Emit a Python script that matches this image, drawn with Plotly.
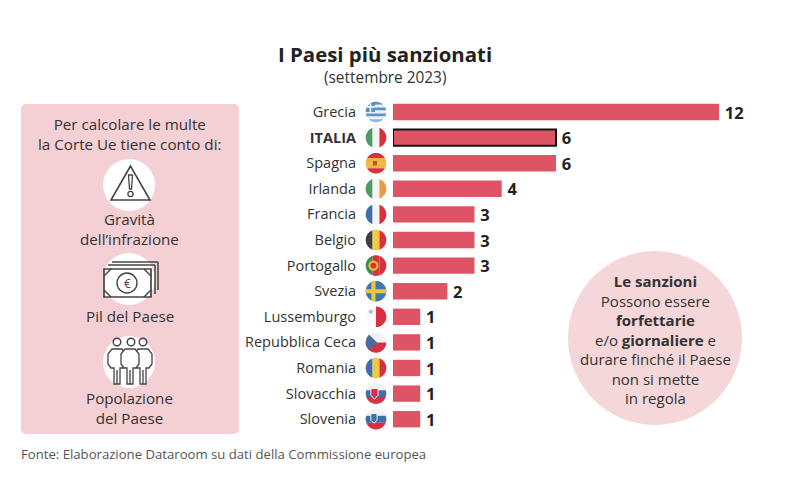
import math
import plotly.graph_objects as go

countries = ["Grecia", "ITALIA", "Spagna", "Irlanda", "Francia", "Belgio", "Portogallo", "Svezia",
             "Lussemburgo", "Repubblica Ceca", "Romania", "Slovacchia", "Slovenia"]
sanctions = [12, 6, 6, 4, 3, 3, 3, 2, 1, 1, 1, 1, 1]
tick_labels = ["<b>ITALIA</b>" if c == "ITALIA" else c for c in countries]

W, H = 800, 490
OFFSET = 8  # page body margin
BAR_RED = "#de5464"
PANEL = "#f4cfd3"
CIRCLE = "#f5d6d9"
TXT = "#333333"
ICON = "#444444"
FONT = "Open Sans"
SCALE = 27.17
X0 = 393
ROW0 = 112
ROW = 25.6


def px(x):
    return (x - OFFSET) / W


def py(y):
    return 1 - (y - OFFSET) / H


def to_path(points, close=True):
    s = "M" + " L".join(f"{px(x):.5f},{py(y):.5f}" for x, y in points)
    return s + (" Z" if close else "")


shapes = []


def add_poly(points, fill="rgba(0,0,0,0)", line=None, lw=0, close=True):
    shapes.append(dict(type="path", xref="paper", yref="paper", path=to_path(points, close),
                       fillcolor=fill, line=dict(color=line or "rgba(0,0,0,0)", width=lw), layer="above"))


def circle_pts(cx, cy, r, n=64):
    return [(cx + r * math.cos(2 * math.pi * i / n), cy + r * math.sin(2 * math.pi * i / n)) for i in range(n)]


def add_circle(cx, cy, r, fill="rgba(0,0,0,0)", line=None, lw=0, layer="above"):
    shapes.append(dict(type="circle", xref="paper", yref="paper",
                       x0=px(cx - r), x1=px(cx + r), y0=py(cy + r), y1=py(cy - r),
                       fillcolor=fill, line=dict(color=line or "rgba(0,0,0,0)", width=lw), layer=layer))


def clip(poly, a, b, c):
    """keep points where a*x+b*y<=c"""
    out = []
    for i in range(len(poly)):
        p, q = poly[i], poly[(i + 1) % len(poly)]
        dp, dq = a * p[0] + b * p[1] - c, a * q[0] + b * q[1] - c
        if dp <= 0:
            out.append(p)
        if dp * dq < 0:
            t = dp / (dp - dq)
            out.append((p[0] + t * (q[0] - p[0]), p[1] + t * (q[1] - p[1])))
    return out


FR = 10.3
FX = 376


def band(cy, color, x0=-1, x1=1, y0=-1, y1=1, extra=()):
    poly = circle_pts(0, 0, 1)
    for a, b, c in [(1, 0, x1), (-1, 0, -x0), (0, 1, y1), (0, -1, -y0)] + list(extra):
        poly = clip(poly, a, b, c)
    if poly:
        add_poly([(FX + x * FR, cy + y * FR) for x, y in poly], fill=color)


def vstripes(cy, cols):
    n = len(cols)
    for i, col in enumerate(cols):
        band(cy, col, x0=-1 + 2 * i / n, x1=-1 + 2 * (i + 1) / n)


def hstripes(cy, cols):
    n = len(cols)
    for i, col in enumerate(cols):
        band(cy, col, y0=-1 + 2 * i / n, y1=-1 + 2 * (i + 1) / n)


def flag(name, cy):
    if name == "Grecia":
        hstripes(cy, ["#5b92c4", "#e8eff6", "#5b92c4", "#e8eff6", "#5b92c4", "#e8eff6", "#8fb5d8"])
        band(cy, "#5b92c4", x1=-0.1, y1=0.0)
        band(cy, "#eef3f8", x0=-0.62, x1=-0.46, y1=0.0)
        band(cy, "#eef3f8", x1=-0.1, y0=-0.58, y1=-0.42)
    elif name == "ITALIA":
        vstripes(cy, ["#4d9a68", "#f4f4f2", "#d8303f"])
    elif name == "Spagna":
        hstripes(cy, ["#d8303f", "#f0b73f", "#f0b73f", "#d8303f"])
        band(cy, "#b5603a", x0=-0.3, x1=0.1, y0=-0.22, y1=0.22)
    elif name == "Irlanda":
        vstripes(cy, ["#4d9a68", "#f4f4f2", "#eb9a48"])
    elif name == "Francia":
        vstripes(cy, ["#3f6fa8", "#f4f4f2", "#d8303f"])
    elif name == "Belgio":
        vstripes(cy, ["#3f3f3f", "#f2cc3c", "#d8303f"])
    elif name == "Portogallo":
        vstripes(cy, ["#3f8a4f", "#d8303f", "#d8303f"])
        add_circle(FX - 0.25 * FR, cy, 0.5 * FR, fill="#e8b93c")
        add_circle(FX - 0.25 * FR, cy, 0.28 * FR, fill="#d8303f")
    elif name == "Svezia":
        band(cy, "#3f78ad")
        band(cy, "#ecc83c", x0=-0.45, x1=-0.05)
        band(cy, "#ecc83c", y0=-0.2, y1=0.2)
    elif name == "Lussemburgo":
        vstripes(cy, ["#fafafa", "#d8303f"])
        add_poly([(FX - 0.5 * FR, cy - 0.75 * FR), (FX - 0.25 * FR, cy - 0.5 * FR),
                  (FX - 0.5 * FR, cy - 0.25 * FR), (FX - 0.75 * FR, cy - 0.5 * FR)], fill="#bbbbc4")
    elif name == "Repubblica Ceca":
        hstripes(cy, ["#f2f2f4", "#d8303f"])
        poly = circle_pts(0, 0, 1)
        poly = clip(clip(poly, 1, 1, 0.1), 1, -1, 0.1)
        add_poly([(FX + x * FR, cy + y * FR) for x, y in poly], fill="#4d6a9c")
    elif name == "Romania":
        vstripes(cy, ["#3f6fa8", "#f0cc3c", "#d8303f"])
    elif name == "Slovacchia":
        hstripes(cy, ["#f2f2f4", "#3f6fa8", "#d8303f"])
        add_poly([(FX - 0.5 * FR, cy - 0.5 * FR), (FX + 0.2 * FR, cy - 0.5 * FR),
                  (FX + 0.2 * FR, cy + 0.15 * FR), (FX - 0.15 * FR, cy + 0.55 * FR),
                  (FX - 0.5 * FR, cy + 0.15 * FR)], fill="#d8303f", line="#f2f2f4", lw=1)
    elif name == "Slovenia":
        hstripes(cy, ["#f2f2f4", "#3f6fa8", "#d8303f"])
        add_poly([(FX - 0.5 * FR, cy - 0.55 * FR), (FX + 0.1 * FR, cy - 0.55 * FR),
                  (FX + 0.1 * FR, cy + 0.1 * FR), (FX - 0.2 * FR, cy + 0.4 * FR),
                  (FX - 0.5 * FR, cy + 0.1 * FR)], fill="#3f6fa8", line="#f2f2f4", lw=1)


def round_rect(x0, y0, x1, y1, r):
    pts = []
    for cx, cy, a0 in [(x1 - r, y0 + r, -90), (x1 - r, y1 - r, 0), (x0 + r, y1 - r, 90), (x0 + r, y0 + r, 180)]:
        for k in range(9):
            a = math.radians(a0 + k * 90 / 8)
            pts.append((cx + r * math.cos(a), cy + r * math.sin(a)))
    return pts


shapes.append(dict(type="path", xref="paper", yref="paper", path=to_path(round_rect(21, 104, 239, 434, 5)),
                   fillcolor=PANEL, line=dict(width=0), layer="below"))
add_circle(655, 338, 87, fill=CIRCLE, layer="below")

for i, c in enumerate(countries):
    flag(c, ROW0 + ROW * i)

# warning icon
add_circle(129, 185, 26, fill="white")
add_poly([(130.5, 166), (111, 200), (150, 200)], line=ICON, lw=1.6)
add_poly([(128.5, 175), (132.5, 175), (131.5, 189), (129.5, 189)], line=ICON, lw=1.3)
add_circle(130.5, 194, 2.6, line=ICON, lw=1.3)

# money icon
add_circle(129, 279, 26, fill="white")
add_poly([(158, 262), (112, 262)], line=ICON, lw=1.5, close=False)
add_poly([(158, 262), (158, 290)], line=ICON, lw=1.5, close=False)
add_poly([(155, 265), (108, 265)], line=ICON, lw=1.5, close=False)
add_poly([(155, 265), (155, 294)], line=ICON, lw=1.5, close=False)
add_poly([(104, 269), (151, 269), (151, 297), (104, 297)], fill="white", line=ICON, lw=1.7)
add_circle(127, 283, 10, line=ICON, lw=1.4)
for a, b in [((104, 276), (111, 269)), ((144, 269), (151, 276)), ((104, 290), (111, 297)), ((144, 297), (151, 290))]:
    add_poly([a, b], line=ICON, lw=1.4, close=False)

# people icon
add_circle(129, 362, 26, fill="white")
for hx in (117, 131, 143):
    add_circle(hx, 342, 3.8, line=ICON, lw=1.4)


def person(x):
    add_poly([(x - 3, 384), (x - 3, 368), (x - 6, 368), (x - 9, 364), (x - 9, 354), (x - 5, 349), (x + 5, 349),
              (x + 9, 354), (x + 9, 364), (x + 6, 368), (x + 3, 368), (x + 3, 384), (x, 384), (x, 370), (x, 384)],
             fill="white", line=ICON, lw=1.3)


person(143)
person(117)
person(130)

annotations = []


def text(x, y, s, size=14, color=TXT, anchor="center"):
    annotations.append(dict(x=px(x), y=py(y), xref="paper", yref="paper", text=s, showarrow=False,
                            xanchor=anchor, yanchor="middle", align=anchor,
                            font=dict(family=FONT, size=size, color=color)))


text(385, 54, "<b>I Paesi più sanzionati</b>", size=20.4, color="#222222")
text(385, 78, "(settembre 2023)", size=15.4)
text(129.5, 134, "Per calcolare le multe<br>la Corte Ue tiene conto di:", size=15.2)
text(129.5, 229, "Gravità<br>dell’infrazione", size=15.2)
text(129.5, 316, "Pil del Paese", size=15.2)
text(129.5, 407.5, "Popolazione<br>del Paese", size=15.2)
text(127, 283, "€", size=12, color=ICON)
text(655, 339, "<b>Le sanzioni</b><br>Possono essere<br><b>forfettarie</b><br>e/o <b>giornaliere</b> e<br>"
     "durare finché il Paese<br>non si mette<br>in regola", size=15)
text(19, 454, "Fonte: Elaborazione Dataroom su dati della Commissione europea", size=13.15, color="#555555", anchor="left")

fig = go.Figure(go.Bar(
    x=sanctions, y=countries, orientation="h",
    marker=dict(color=BAR_RED,
                line=dict(color="#111111", width=[2 if c == "ITALIA" else 0 for c in countries])),
    text=[f"\u2009<b>{v}</b>" for v in sanctions], textposition="outside", cliponaxis=False,
    constraintext="none",
    textfont=dict(family=FONT, size=16.5, color="#222222"), width=0.64, hoverinfo="skip",
))
fig.update_layout(
    width=W, height=H, margin=dict(l=0, r=0, t=0, b=0), autosize=False,
    paper_bgcolor="white", plot_bgcolor="rgba(0,0,0,0)", showlegend=False,
    shapes=shapes, annotations=annotations,
    xaxis=dict(domain=[px(X0), 1], range=[0, (W + OFFSET - X0) / SCALE], visible=False),
    yaxis=dict(domain=[py(ROW0 + ROW * 12.5), py(ROW0 - ROW * 0.5)], range=[12.5, -0.5], type="category",
               categoryorder="array", categoryarray=countries, tickmode="array",
               tickvals=countries, ticktext=tick_labels, showline=False, showgrid=False, ticks="",
               ticklabelstandoff=36, tickfont=dict(family=FONT, size=14.5, color=TXT), zeroline=False),
)
fig.write_html("out.html")
